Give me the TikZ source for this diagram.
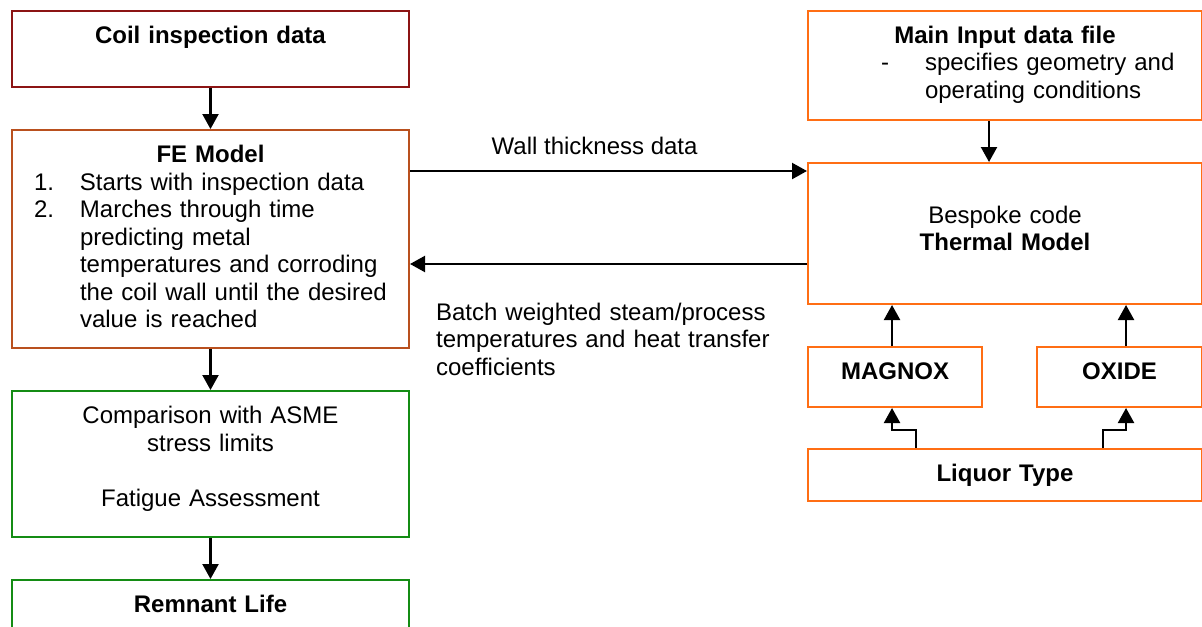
\documentclass[tikz,border=0pt]{standalone}
\usepackage{fontspec}
\setmainfont{Liberation Sans}
\usepackage{tikz}
\usetikzlibrary{arrows.meta,positioning}
\definecolor{coilred}{RGB}{140,20,20}
\definecolor{febrown}{RGB}{185,80,30}
\definecolor{assessgreen}{RGB}{20,140,20}
\definecolor{thermorange}{RGB}{255,110,20}

% one line of a hanging list: indent, label width, label, text
\newcommand{\listline}[4]{\makebox[\hsize][l]{\hspace*{#1}\makebox[#2][l]{#3}#4}}

\begin{document}
\begin{tikzpicture}[
      x=0.5pt, y=-0.5pt,
      node distance=20.5pt,
      font=\fontsize{12}{13.75}\selectfont,
      flowbox/.style={rectangle, draw, line width=1pt, align=center, inner xsep=11pt, inner ysep=6.625pt, text height=9.625pt, text depth=#1},
      leftbox/.style={flowbox=#1, text width=176.5pt},
      rightbox/.style={flowbox=#1, text width=175pt},
      arrow/.style={-{Triangle[width=8pt,length=7.5pt]}, line width=1.1pt},
      lbl/.style={inner sep=0pt, anchor=base}
    ]
    \path[use as bounding box, clip] (0,0) rectangle (1202,626);

    % FE side
    \node[leftbox=15.125pt, draw=coilred, anchor=north west] (coil) at (11,10) {\textbf{Coil inspection data}};
    \node[leftbox=86.125pt, draw=febrown, below=of coil] (fe) {\textbf{FE Model}\\
      \listline{0pt}{23pt}{1.}{Starts with inspection data}\\
      \listline{0pt}{23pt}{2.}{Marches through time}\\
      \listline{0pt}{23pt}{}{predicting metal}\\
      \listline{0pt}{23pt}{}{temperatures and corroding}\\
      \listline{0pt}{23pt}{}{the coil wall until the desired}\\
      \listline{0pt}{23pt}{}{value is reached}};
    \node[leftbox=50.125pt, draw=assessgreen, below=of fe] (asme) {Comparison with ASME\\stress limits\\[13.75pt]Fatigue Assessment};
    \node[leftbox=15.125pt, draw=assessgreen, below=of asme] (life) {\textbf{Remnant Life}};

    % thermal side
    \node[rightbox=31.625pt, draw=thermorange, anchor=north west] (mainin) at (807,10) {\textbf{Main Input data file}\\
      \listline{25.5pt}{22pt}{-}{specifies geometry and}\\
      \listline{25.5pt}{22pt}{}{operating conditions}};
    \node[rightbox=47.625pt, draw=thermorange, below=of mainin] (thermal) {\mbox{}\\Bespoke code\\\textbf{Thermal Model}};
    \node[flowbox=7.125pt, text width=65pt, draw=thermorange, below=of thermal.south west, anchor=north west] (magnox) {\textbf{MAGNOX}};
    \node[flowbox=7.125pt, text width=60.5pt, draw=thermorange, below=of thermal.south east, anchor=north east] (oxide) {\textbf{OXIDE}};
    \node[rightbox=3.125pt, draw=thermorange, below=20pt of magnox.south west, anchor=north west] (liquor) {\textbf{Liquor Type}};

    % connectors
    \draw[arrow] (coil) -- (fe);
    \draw[arrow] (fe) -- (asme);
    \draw[arrow] (asme) -- (life);
    \draw[arrow] ([xshift=-8pt]mainin.south) -- ([xshift=-8pt]thermal.north);
    \draw[arrow] ([xshift=-1.5pt]magnox.north) -- ([xshift=-1.5pt]magnox.north |- thermal.south);
    \draw[arrow] ([xshift=3.25pt]oxide.north) -- ([xshift=3.25pt]oxide.north |- thermal.south);
    \draw[arrow] ([xshift=54.5pt]liquor.north west) -- ++(0,9pt) -| ([xshift=-1.5pt]magnox.south);
    \draw[arrow] ([xshift=-50pt]liquor.north east) -- ++(0,9pt) -| ([xshift=3.25pt]oxide.south);

    \draw[arrow] ([yshift=-21pt]fe.north east) -- node[lbl, pos=0.465, yshift=8.5pt] {Wall thickness data} ([yshift=-21pt]fe.north east -| thermal.west);
    \draw[arrow] ([yshift=-51pt]thermal.north west) -- node[lbl, anchor=base west, pos=0.937, yshift=-28pt, text width=170pt, align=left] {Batch weighted steam/process\\temperatures and heat transfer\\coefficients} ([yshift=-51pt]thermal.north west -| fe.east);
\end{tikzpicture}
\end{document}
